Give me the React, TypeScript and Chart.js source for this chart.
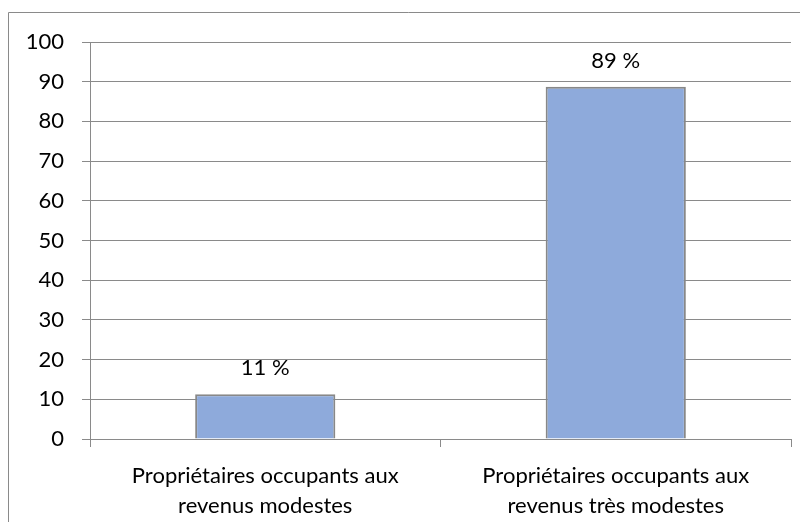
import React, { useEffect, useRef } from "react";
import { Chart, registerables } from "chart.js";

Chart.register(...registerables);

const categories: string[][] = [
  ["Propriétaires occupants aux", "revenus modestes"],
  ["Propriétaires occupants aux", "revenus très modestes"],
];
const values: number[] = [11.3, 88.7];
const valueLabels: string[] = ["11 %", "89 %"];
const yMin = 0;
const yMax = 100;
const yStep = 10;

const FONT = "Lato, 'Open Sans', sans-serif";
const GRID = "#8a8a8a";

const frame = {
  id: "frame",
  beforeDraw(chart: any) {
    const ctx = chart.ctx;
    ctx.save();
    ctx.strokeStyle = GRID;
    ctx.lineWidth = 1;
    ctx.beginPath();
    ctx.moveTo(0.5, chart.height + 5);
    ctx.lineTo(0.5, 4.5);
    ctx.lineTo(chart.width + 5, 4.5);
    ctx.stroke();
    ctx.restore();
  },
};

const valueLabelPlugin = {
  id: "valueLabels",
  afterDatasetsDraw(chart: any) {
    const ctx = chart.ctx;
    const meta = chart.getDatasetMeta(0);
    ctx.save();
    ctx.fillStyle = "#000";
    ctx.font = `22px ${FONT}`;
    ctx.textAlign = "center";
    ctx.textBaseline = "middle";
    meta.data.forEach((bar: any, i: number) => {
      ctx.fillText(valueLabels[i], bar.x, bar.y - 26);
    });
    ctx.restore();
  },
};

export default function App() {
  const ref = useRef<HTMLCanvasElement | null>(null);
  useEffect(() => {
    if (!ref.current) return;
    const chart = new Chart(ref.current, {
      type: "bar",
      data: {
        labels: categories,
        datasets: [
          {
            data: values,
            backgroundColor: "#8eaadb",
            borderColor: "#888888",
            borderWidth: 2,
            barPercentage: 0.4,
            categoryPercentage: 1,
          },
        ],
      },
      options: {
        animation: false,
        responsive: false,
        devicePixelRatio: 1,
        layout: { padding: { left: 0, right: 17, top: 34, bottom: 0 } },
        plugins: {
          legend: { display: false },
          tooltip: { enabled: false },
        },
        scales: {
          x: {
            grid: {
              offset: true,
              drawOnChartArea: false,
              drawTicks: true,
              tickLength: 8,
              color: GRID,
            },
            border: { display: true, color: GRID },
            ticks: {
              color: "#000",
              font: { family: FONT, size: 22, lineHeight: 1.36 },
              padding: 14,
              maxRotation: 0,
              autoSkip: false,
            },
            afterFit(scale: any) {
              scale.height = 83;
            },
          },
          y: {
            min: yMin,
            max: yMax,
            grid: { color: GRID, tickLength: 8, drawTicks: true },
            border: { display: true, color: GRID },
            ticks: {
              stepSize: yStep,
              color: "#000",
              font: { family: FONT, size: 22 },
              padding: 18,
            },
            afterFit(scale: any) {
              scale.width = 82;
            },
          },
        },
      },
      plugins: [frame, valueLabelPlugin],
    });
    return () => chart.destroy();
  }, []);
  return (
    <div style={{ width: 800, height: 514 }}>
      <canvas ref={ref} width={800} height={514} style={{ display: "block" }} />
    </div>
  );
}
